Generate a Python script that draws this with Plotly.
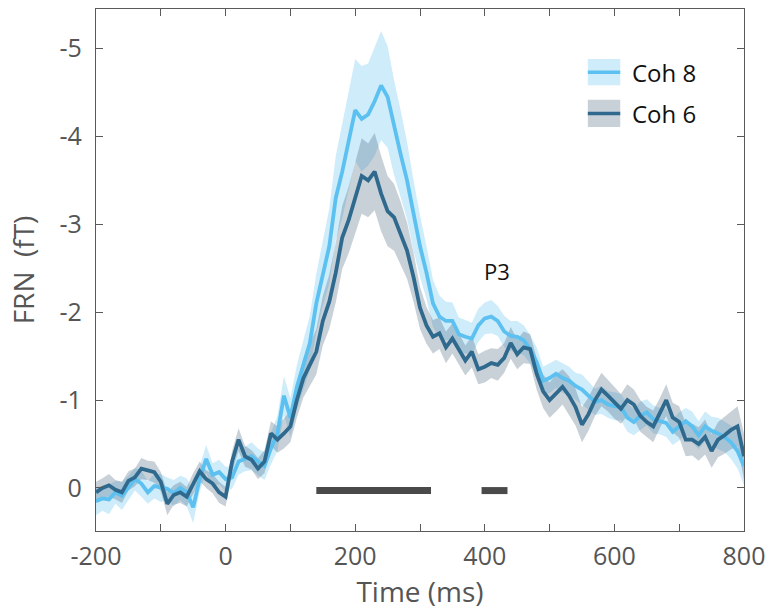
import plotly.graph_objects as go

# ---------------- data ----------------
time_ms = list(range(-200, 801, 10))

coh8_mean = [
    0.15, 0.12, 0.13, 0.05, 0.09, 0.00, -0.10, -0.05, 0.05, -0.02,
    0.00, 0.01, 0.06, 0.00, 0.05, 0.22, -0.10, -0.33, -0.15, -0.18,
    -0.10, -0.12, -0.30, -0.33, -0.36, -0.30, -0.25, -0.45, -0.62, -1.05,
    -0.80, -1.15, -1.40, -1.65, -2.10, -2.45, -2.75, -3.30, -3.60, -3.95,
    -4.30, -4.20, -4.25, -4.40, -4.58, -4.45, -4.10, -3.80, -3.50, -3.10,
    -2.75, -2.45, -2.10, -1.95, -1.90, -1.90, -1.75, -1.72, -1.70, -1.85,
    -1.93, -1.95, -1.90, -1.78, -1.73, -1.72, -1.68, -1.58, -1.43, -1.22,
    -1.25, -1.30, -1.25, -1.22, -1.16, -1.12, -1.05, -0.98, -1.00, -0.95,
    -0.93, -0.92, -0.80, -0.75, -0.82, -0.86, -0.78, -0.76, -0.74, -0.64,
    -0.70, -0.76, -0.70, -0.60, -0.70, -0.65, -0.62, -0.58, -0.52, -0.42,
    -0.25,
]
coh8_sem = [
    0.16, 0.14, 0.17, 0.13, 0.16, 0.14, 0.13, 0.15, 0.13, 0.14,
    0.16, 0.13, 0.15, 0.14, 0.16, 0.18, 0.14, 0.16, 0.13, 0.14,
    0.14, 0.13, 0.15, 0.14, 0.16, 0.15, 0.16, 0.18, 0.20, 0.22,
    0.22, 0.25, 0.28, 0.31, 0.34, 0.38, 0.43, 0.48, 0.53, 0.56,
    0.58, 0.60, 0.58, 0.62, 0.62, 0.58, 0.54, 0.50, 0.44, 0.40,
    0.35, 0.30, 0.27, 0.24, 0.22, 0.21, 0.19, 0.19, 0.18, 0.19,
    0.18, 0.19, 0.17, 0.18, 0.17, 0.18, 0.17, 0.16, 0.17, 0.16,
    0.17, 0.16, 0.17, 0.16, 0.15, 0.17, 0.16, 0.15, 0.16, 0.15,
    0.16, 0.15, 0.16, 0.15, 0.16, 0.15, 0.16, 0.15, 0.16, 0.15,
    0.16, 0.15, 0.17, 0.16, 0.17, 0.16, 0.18, 0.17, 0.19, 0.20,
    0.22,
]
coh6_mean = [
    0.05, 0.00, -0.03, 0.02, 0.05, -0.08, -0.12, -0.22, -0.20, -0.18,
    -0.07, 0.18, 0.08, 0.05, 0.10, -0.05, -0.19, -0.10, -0.05, 0.05,
    0.10, -0.30, -0.55, -0.36, -0.32, -0.22, -0.30, -0.62, -0.55, -0.62,
    -0.70, -1.00, -1.25, -1.40, -1.55, -1.90, -2.12, -2.45, -2.85, -3.05,
    -3.30, -3.55, -3.50, -3.60, -3.35, -3.15, -3.08, -2.90, -2.70, -2.40,
    -2.05, -1.85, -1.72, -1.76, -1.60, -1.70, -1.58, -1.45, -1.55, -1.35,
    -1.38, -1.42, -1.40, -1.48, -1.65, -1.52, -1.60, -1.58, -1.30, -1.10,
    -1.00, -1.08, -1.15, -1.05, -0.92, -0.72, -0.84, -1.00, -1.12, -1.05,
    -0.97, -0.90, -1.00, -0.95, -0.82, -0.75, -0.70, -0.85, -1.00, -0.80,
    -0.75, -0.55, -0.55, -0.50, -0.58, -0.42, -0.55, -0.60, -0.66, -0.70,
    -0.36,
]
coh6_sem = [
    0.12, 0.11, 0.13, 0.11, 0.12, 0.11, 0.10, 0.12, 0.11, 0.12,
    0.11, 0.13, 0.11, 0.12, 0.11, 0.12, 0.11, 0.10, 0.11, 0.12,
    0.11, 0.12, 0.13, 0.12, 0.11, 0.12, 0.13, 0.14, 0.15, 0.17,
    0.18, 0.20, 0.22, 0.24, 0.26, 0.28, 0.31, 0.34, 0.36, 0.38,
    0.40, 0.43, 0.42, 0.44, 0.43, 0.40, 0.38, 0.36, 0.32, 0.28,
    0.24, 0.21, 0.19, 0.18, 0.18, 0.17, 0.18, 0.17, 0.18, 0.17,
    0.18, 0.17, 0.18, 0.17, 0.18, 0.17, 0.18, 0.17, 0.18, 0.19,
    0.20, 0.21, 0.20, 0.22, 0.21, 0.20, 0.19, 0.18, 0.19, 0.18,
    0.18, 0.17, 0.18, 0.17, 0.18, 0.17, 0.18, 0.17, 0.18, 0.17,
    0.18, 0.19, 0.18, 0.19, 0.20, 0.19, 0.20, 0.21, 0.22, 0.23,
    0.26,
]

sig_windows = [(140, 317), (395, 435)]
sig_level = 0.03

series_names = ["Coh 8", "Coh 6"]
y_tick_vals = [0, -1, -2, -3, -4, -5]
y_tick_text = ["0", "-1", "-2", "-3", "-4", "-5"]
x_tick_vals = list(range(-200, 801, 100))
x_tick_text = ["-200", "", "0", "", "200", "", "400", "", "600", "", "800"]

# ---------------- style ----------------
c8_line = "#5cc1f0"
c8_band = "rgba(92,193,240,0.30)"
c6_line = "#2f6a8e"
c6_band = "rgba(60,90,115,0.28)"
axis_col = "#5a5a5a"
text_col = "#555555"
FONT = "Open Sans"

fig = go.Figure()


def band(t, m, s, color):
    upper = [a - b for a, b in zip(m, s)]
    lower = [a + b for a, b in zip(m, s)]
    return go.Scatter(
        x=t + t[::-1], y=upper + lower[::-1], fill="toself",
        fillcolor=color, line=dict(width=0), hoverinfo="skip",
        showlegend=False, mode="lines",
    )


fig.add_trace(band(time_ms, coh8_mean, coh8_sem, c8_band))
fig.add_trace(band(time_ms, coh6_mean, coh6_sem, c6_band))
fig.add_trace(go.Scatter(x=time_ms, y=coh8_mean, mode="lines", name=series_names[0],
                         line=dict(color=c8_line, width=3.8), showlegend=False))
fig.add_trace(go.Scatter(x=time_ms, y=coh6_mean, mode="lines", name=series_names[1],
                         line=dict(color=c6_line, width=3.8), showlegend=False))

for (a, b) in sig_windows:
    fig.add_trace(go.Scatter(x=[a, b], y=[sig_level, sig_level], mode="lines",
                             line=dict(color="#4a4a4a", width=7), showlegend=False,
                             hoverinfo="skip"))

# custom legend (swatch box + line)
leg_x0, leg_x1 = 0.759, 0.809
leg_rows = [(0.854, 0.904, c8_band, c8_line), (0.774, 0.826, c6_band, c6_line)]
for (y0, y1, fc, lc), name in zip(leg_rows, series_names):
    fig.add_shape(type="rect", xref="paper", yref="paper", x0=leg_x0, x1=leg_x1,
                  y0=y0, y1=y1, fillcolor=fc, line=dict(width=0), layer="above")
    ym = (y0 + y1) / 2
    fig.add_shape(type="line", xref="paper", yref="paper", x0=leg_x0, x1=leg_x1,
                  y0=ym, y1=ym, line=dict(color=lc, width=3.5), layer="above")
    fig.add_annotation(xref="paper", yref="paper", x=0.824, y=ym, text=name,
                       showarrow=False, xanchor="left", yanchor="middle",
                       font=dict(family=FONT, size=24, color="#111111"))

fig.add_annotation(x=419, y=-2.47, text="P3", showarrow=False,
                   font=dict(family=FONT, size=22, color="#111111"))

fig.update_layout(
    width=769, height=612,
    margin=dict(l=96, r=25, t=9, b=81),
    plot_bgcolor="white", paper_bgcolor="white",
    font=dict(family=FONT, color=text_col),
)
fig.update_xaxes(
    range=[-200, 800], tickvals=x_tick_vals, ticktext=x_tick_text,
    ticks="inside", ticklen=7, tickcolor=axis_col, tickwidth=1.3,
    showline=True, linecolor=axis_col, linewidth=1.3, mirror="ticks",
    showgrid=False, zeroline=False, automargin=False,
    tickfont=dict(family=FONT, size=25, color=text_col),
    ticklabelstandoff=3,
    title=dict(text="Time (ms)", font=dict(family=FONT, size=28, color=text_col), standoff=2),
)
fig.update_yaxes(
    range=[0.49, -5.45], tickvals=y_tick_vals, ticktext=y_tick_text,
    ticks="inside", ticklen=7, tickcolor=axis_col, tickwidth=1.3,
    showline=True, linecolor=axis_col, linewidth=1.3, mirror="ticks",
    showgrid=False, zeroline=False, automargin=False,
    tickfont=dict(family=FONT, size=25, color=text_col),
    ticklabelstandoff=8,
    title=dict(text="FRN\u00a0 (fT)", font=dict(family=FONT, size=28, color=text_col), standoff=16),
)

fig.write_html(
    "out.html",
    config={"displayModeBar": False},
    post_script="document.body.style.margin='0';document.body.style.overflow='hidden';",
)
